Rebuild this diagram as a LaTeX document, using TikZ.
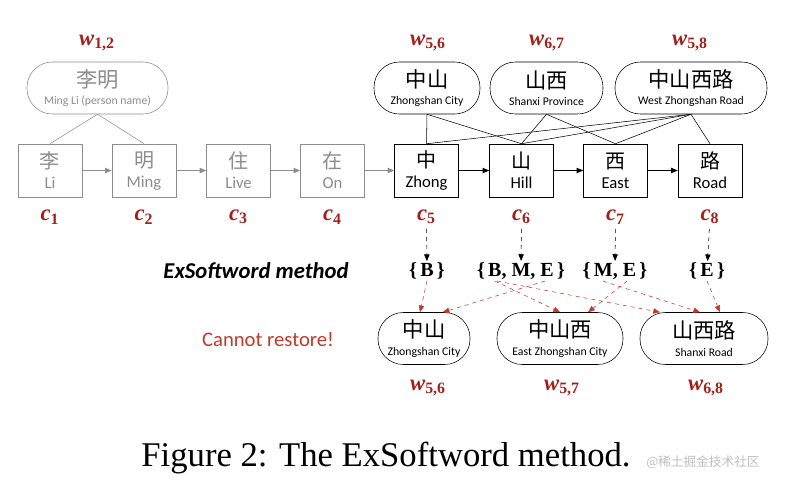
\documentclass[tikz,border=0pt]{standalone}
\usepackage{fontspec}
\setmainfont{Carlito}
\newfontfamily\cjk{Noto Sans CJK SC}
\newfontfamily\capfont{Liberation Serif}
\usetikzlibrary{arrows.meta}
\definecolor{wred}{RGB}{162,32,28}
\definecolor{dashred}{RGB}{192,57,43}
\definecolor{grey}{RGB}{140,140,140}
\newcommand{\boxtext}[2]{{\cjk\fontsize{15}{15}\selectfont #1}\\[3pt]{\fontsize{12.5}{13}\selectfont #2}}
\newcommand{\ovaltext}[2]{{\cjk\fontsize{16}{16}\selectfont #1}\\[1pt]{\fontsize{8.8}{9}\selectfont #2}}
\newcommand{\idx}[2]{{\itshape #1}\textsubscript{#2}}
\tikzset{
  charbox/.style={ draw, minimum width=48pt, minimum height=39.75pt, inner sep=0pt, align=center }
}
\tikzset{
  greybox/.style={ charbox, draw=grey, text=grey }
}
\tikzset{
  wordoval/.style={ draw, rounded corners=19pt, minimum height=39pt, inner sep=0pt, align=center }
}
\tikzset{
  redlab/.style={ text=wred, font=\capfont\bfseries\fontsize{17}{18}\selectfont }
}
\tikzset{
  tagset/.style={ inner sep=1pt, font=\capfont\bfseries\fontsize{15}{16}\selectfont }
}
\tikzset{
  seq/.style={ -{Triangle[length=5pt,width=4pt]}, thick }
}
\tikzset{
  down/.style={ -{Triangle[length=5pt,width=4pt]}, dashed, thin }
}
\tikzset{
  back/.style={ down, dashred }
}

\begin{document}
\begin{tikzpicture}[x=0.75pt, y=-0.75pt]
      \useasboundingbox (0,0) rectangle (790,490);
      % character boxes
      \node[greybox] (li) at (50, 170.5) {\boxtext{李}{Li}};
      \node[greybox] (ming) at (144, 170.5) {\boxtext{明}{Ming}};
      \node[greybox] (zhu) at (238.5, 170.5) {\boxtext{住}{Live}};
      \node[greybox] (zai) at (332.5, 170.5) {\boxtext{在}{On}};
      \node[charbox] (zhong) at (426.5, 170.5) {\boxtext{中}{Zhong}};
      \node[charbox] (shan) at (521.5, 170.5) {\boxtext{山}{Hill}};
      \node[charbox] (xi) at (615.5, 170.5) {\boxtext{西}{East}};
      \node[charbox] (lu) at (710, 170.5) {\boxtext{路}{Road}};
      \draw[seq, grey] (li) -- (ming);
      \draw[seq, grey] (ming) -- (zhu);
      \draw[seq, grey] (zhu) -- (zai);
      \draw[seq, grey] (zai) -- (zhong);
      \draw[seq] (zhong) -- (shan);
      \draw[seq] (shan) -- (xi);
      \draw[seq] (xi) -- (lu);
      % lexicon words
      \node[wordoval, draw=grey, text=grey, minimum width=105.75pt] (liming) at (97.5, 88) {\ovaltext{李明}{Ming Li (person name)}};
      \node[wordoval, minimum width=79.5pt] (zs) at (427, 88) {\ovaltext{中山}{Zhongshan City}};
      \node[wordoval, minimum width=84.75pt] (sx) at (546.5, 88) {\ovaltext{山西}{Shanxi Province}};
      \node[wordoval, minimum width=114pt] (zsxl) at (691, 88) {\ovaltext{中山西路}{West Zhongshan Road}};
      \draw[grey] (liming.south) -- (li.north);
      \draw[grey] (liming.south) -- (ming.north);
      \draw (zs.south) -- (zhong.north);
      \draw (zs.south) -- (shan.north);
      \draw (sx.south) -- (shan.north);
      \draw (sx.south) -- (xi.north);
      \foreach \c in {zhong, shan, xi, lu}
        \draw (zsxl.south) -- (\c.north);
      \node[redlab] (w12) at (97, 43) {\idx{w}{1,2}};
      \node[redlab] (w56) at (428, 43) {\idx{w}{5,6}};
      \node[redlab] (w67) at (547, 43) {\idx{w}{6,7}};
      \node[redlab] (w58) at (690, 43) {\idx{w}{5,8}};
      % positions
      \node[redlab] (c1) at (50, 217) {\idx{c}{1}};
      \node[redlab] (c2) at (144, 217) {\idx{c}{2}};
      \node[redlab] (c3) at (238.5, 217) {\idx{c}{3}};
      \node[redlab] (c4) at (332.5, 217) {\idx{c}{4}};
      \node[redlab] (c5) at (426.5, 217) {\idx{c}{5}};
      \node[redlab] (c6) at (521.5, 217) {\idx{c}{6}};
      \node[redlab] (c7) at (615.5, 217) {\idx{c}{7}};
      \node[redlab] (c8) at (710, 217) {\idx{c}{8}};
      % ExSoftword tags
      \node[font=\bfseries\itshape\fontsize{17}{18}\selectfont] (method) at (256, 271) {ExSoftword method};
      \node[tagset] (s5) at (427, 271) {\{\,B\,\}};
      \node[tagset] (s6) at (521, 271) {\{\,B, M, E\,\}};
      \node[tagset] (s7) at (615, 271) {\{\,M, E\,\}};
      \node[tagset] (s8) at (707, 271) {\{\,E\,\}};
      \draw[down] (c5) -- (s5);
      \draw[down] (c6) -- (s6);
      \draw[down] (c7) -- (s7);
      \draw[down] (c8) -- (s8);
      % recovered words
      \node[text=dashred, font=\fontsize{15.5}{17}\selectfont] (fail) at (268, 340) {Cannot restore!};
      \node[wordoval, minimum width=69pt] (b56) at (424, 338.5) {\ovaltext{中山}{Zhongshan City}};
      \node[wordoval, minimum width=94.5pt] (b57) at (560, 338.5) {\ovaltext{中山西}{East Zhongshan City}};
      \node[wordoval, minimum width=96pt] (b68) at (704, 338.5) {\ovaltext{山西路}{Shanxi Road}};
      \draw[back] (s5.south) -- ([xshift=-3pt]b56.north);
      \draw[back] ([xshift=18pt]s6.south) -- ([xshift=14pt]b56.north);
      \draw[back] ([xshift=-19.5pt]s6.south) -- (b57.north);
      \draw[back] ([xshift=-18pt]s6.south) -- ([xshift=-33pt]b68.north);
      \draw[back] ([xshift=-9pt]s7.south) -- ([xshift=-3pt]b68.north);
      \draw[back] ([xshift=9pt]s7.south) -- ([xshift=21pt]b57.north);
      \draw[back] (s8.south) -- ([xshift=12pt]b68.north);
      \node[redlab] (v56) at (428, 388) {\idx{w}{5,6}};
      \node[redlab] (v57) at (562, 388) {\idx{w}{5,7}};
      \node[redlab] (v68) at (706, 388) {\idx{w}{6,8}};
      % caption
      \node[font=\capfont\fontsize{26}{28}\selectfont] (caption) at (386, 458) {Figure 2: The ExSoftword method.};
      \node[text=black!25, font=\cjk\fontsize{9.5}{10}\selectfont] (mark) at (703, 462) {@稀土掘金技术社区};
\end{tikzpicture}
\end{document}
